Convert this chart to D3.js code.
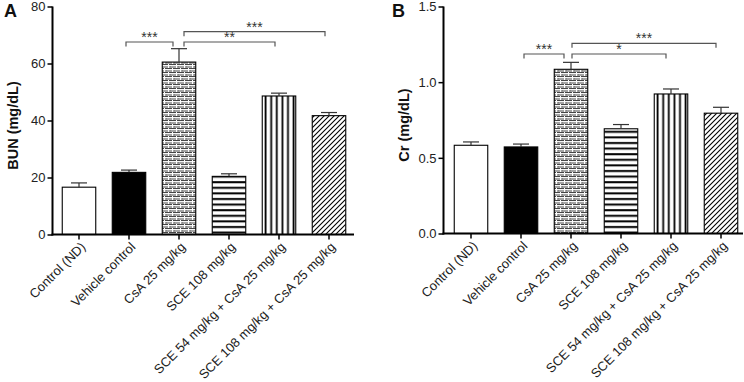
<!DOCTYPE html>
<html>
<head>
<meta charset="utf-8">
<script src="https://cdn.jsdelivr.net/npm/d3@7"></script>
<style>
  html, body { margin: 0; padding: 0; background: #fff; }
  svg { display: block; font-family: "Liberation Sans", Arial, Helvetica, sans-serif; }
</style>
</head>
<body>
<svg id="chart" width="744" height="382"></svg>
<script>
// ---- data ----
const categories = [
  "Control (ND)",
  "Vehicle control",
  "CsA 25 mg/kg",
  "SCE 108 mg/kg",
  "SCE 54 mg/kg + CsA 25 mg/kg",
  "SCE 108 mg/kg + CsA 25 mg/kg"
];
const fills = ["white", "black", "brick", "hstripe", "vstripe", "diag"];

const bunMean = [16.6, 21.8, 60.5, 20.4, 48.6, 41.7];
const bunErr  = [1.5, 0.8, 4.7, 0.9, 1.0, 1.1];
const bunTicks = [0, 20, 40, 60, 80];

const crMean = [0.583, 0.572, 1.085, 0.692, 0.922, 0.795];
const crErr  = [0.022, 0.019, 0.046, 0.028, 0.033, 0.039];
const crTicks = [0.0, 0.5, 1.0, 1.5];

// significance brackets: from / to category index, level (0 = lower, 1 = upper), label
const bunSig = [
  { from: 1, to: 2, level: 0, label: "***" },
  { from: 2, to: 5, level: 1, label: "***" },
  { from: 2, to: 4, level: 0, label: "**" }
];
const crSig = [
  { from: 1, to: 2, level: 0, label: "***" },
  { from: 2, to: 5, level: 1, label: "***" },
  { from: 2, to: 4, level: 0, label: "*" }
];

// ---- drawing ----
const svg = d3.select("#chart");
const defs = svg.append("defs");

// patterns
(function () {
  // brick
  const b = defs.append("pattern").attr("id", "brick").attr("patternUnits", "userSpaceOnUse")
    .attr("width", 8).attr("height", 8);
  b.append("rect").attr("width", 8).attr("height", 8).attr("fill", "#a4a4a4");
  b.append("rect").attr("x", 0).attr("y", 0).attr("width", 8).attr("height", 0.9).attr("fill", "#222");
  b.append("rect").attr("x", 0).attr("y", 0.9).attr("width", 8).attr("height", 1).attr("fill", "#fff");
  b.append("rect").attr("x", 0).attr("y", 4).attr("width", 8).attr("height", 0.9).attr("fill", "#222");
  b.append("rect").attr("x", 0).attr("y", 4.9).attr("width", 8).attr("height", 1).attr("fill", "#fff");
  b.append("rect").attr("x", 0).attr("y", 0).attr("width", 1).attr("height", 4).attr("fill", "#fff");
  b.append("rect").attr("x", 4).attr("y", 4).attr("width", 1).attr("height", 4).attr("fill", "#fff");
  b.append("rect").attr("x", 2).attr("y", 2.3).attr("width", 1).attr("height", 1).attr("fill", "#777");
  b.append("rect").attr("x", 6).attr("y", 6.3).attr("width", 1).attr("height", 1).attr("fill", "#777");

  // horizontal stripes
  const h = defs.append("pattern").attr("id", "hstripe").attr("patternUnits", "userSpaceOnUse")
    .attr("width", 10).attr("height", 5.6);
  h.append("rect").attr("width", 10).attr("height", 5.6).attr("fill", "#fff");
  h.append("rect").attr("y", 2).attr("width", 10).attr("height", 2).attr("fill", "#000");

  // vertical stripes
  const v = defs.append("pattern").attr("id", "vstripe").attr("patternUnits", "userSpaceOnUse")
    .attr("width", 5.6).attr("height", 10);
  v.append("rect").attr("width", 5.6).attr("height", 10).attr("fill", "#fff");
  v.append("rect").attr("x", 1.5).attr("width", 1.8).attr("height", 10).attr("fill", "#000");

  // diagonal hatch
  const d = defs.append("pattern").attr("id", "diag").attr("patternUnits", "userSpaceOnUse")
    .attr("width", 5).attr("height", 5);
  d.append("rect").attr("width", 5).attr("height", 5).attr("fill", "#fff");
  d.append("path").attr("d", "M-1,1 L1,-1 M0,5 L5,0 M4,6 L6,4")
    .attr("stroke", "#000").attr("stroke-width", 1.1);
})();

function fillFor(f) {
  if (f === "white") return "#fff";
  if (f === "black") return "#000";
  return "url(#" + f + ")";
}

function panel(opts) {
  const g = svg.append("g");
  const x = d3.scaleBand().domain(categories)
    .range([opts.x0, opts.x0 + 300]).paddingInner(0.33).paddingOuter(0.165);
  const y = d3.scaleLinear().domain(opts.domain).range([opts.yBottom, opts.yTop]);

  // bars
  g.selectAll("rect.bar").data(categories).enter().append("rect")
    .attr("class", "bar")
    .attr("x", c => x(c))
    .attr("width", x.bandwidth())
    .attr("y", (c, i) => y(opts.mean[i]))
    .attr("height", (c, i) => y(0) - y(opts.mean[i]))
    .attr("fill", (c, i) => fillFor(fills[i]))
    .attr("stroke", "#000").attr("stroke-width", 1.1);

  // error bars (upper only)
  const cap = 16;
  categories.forEach((c, i) => {
    const cx = x(c) + x.bandwidth() / 2;
    const top = y(opts.mean[i] + opts.err[i]);
    g.append("line").attr("x1", cx).attr("x2", cx)
      .attr("y1", y(opts.mean[i])).attr("y2", top)
      .attr("stroke", "#333").attr("stroke-width", 1.2);
    g.append("line").attr("x1", cx - cap / 2).attr("x2", cx + cap / 2)
      .attr("y1", top).attr("y2", top)
      .attr("stroke", "#333").attr("stroke-width", 1.2);
  });

  // y axis
  const yAxis = d3.axisLeft(y).tickValues(opts.ticks).tickFormat(opts.fmt).tickSize(5).tickSizeOuter(0);
  const ya = g.append("g").attr("transform", `translate(${opts.axisX},0)`).call(yAxis);
  ya.select(".domain").attr("stroke-width", 2).attr("d", `M0,${opts.yBottom + 1}V${opts.yTop}`);
  ya.selectAll(".tick line").attr("stroke-width", 1.5);
  ya.selectAll(".tick text").attr("font-size", "13px").attr("fill", "#222")
    .attr("font-family", "'Liberation Sans', Arial, sans-serif").attr("x", -7);

  // x axis
  const xAxis = d3.axisBottom(x).tickSize(5).tickSizeOuter(0);
  const xa = g.append("g").attr("transform", `translate(0,${opts.yBottom})`).call(xAxis);
  xa.select(".domain").attr("stroke-width", 2).attr("d", `M${opts.axisX - 1},0H${opts.axisEnd}`);
  xa.selectAll(".tick line").attr("stroke-width", 1.5);
  xa.selectAll(".tick text")
    .attr("font-size", "13px").attr("fill", "#222")
    .attr("font-family", "'Liberation Sans', Arial, sans-serif")
    .attr("text-anchor", "end")
    .attr("x", 0).attr("y", 0).attr("dy", "0.35em")
    .attr("transform", "translate(4,10) rotate(-45)");

  // y label
  g.append("text")
    .attr("transform", `translate(${opts.labelX},${(opts.yTop + opts.yBottom) / 2 + 5}) rotate(-90)`)
    .attr("text-anchor", "middle")
    .attr("font-size", "14.5px").attr("font-weight", "bold").attr("fill", "#111")
    .text(opts.ylabel);

  // panel letter
  g.append("text").attr("x", opts.letterX).attr("y", 17)
    .attr("font-size", "18px").attr("font-weight", "bold").attr("fill", "#111")
    .text(opts.letter);

  // significance brackets
  opts.sig.forEach(s => {
    const cFrom = x(categories[s.from]) + x.bandwidth() / 2;
    const cTo = x(categories[s.to]) + x.bandwidth() / 2;
    const x1 = cFrom + (s.from === 2 ? opts.offFrom2 : opts.offFrom1);
    const x2 = cTo - (s.to === 2 ? opts.offTo2 : opts.offToN);
    const ly = opts.levelY[s.level];
    g.append("path")
      .attr("d", `M${x1},${ly + 4.5}V${ly}H${x2}V${ly + 4.5}`)
      .attr("fill", "none").attr("stroke", "#555").attr("stroke-width", 1.2);
    g.append("text").attr("x", (x1 + x2) / 2).attr("y", ly)
      .attr("text-anchor", "middle").attr("font-size", "14px").attr("fill", "#333")
      .text(s.label);
  });
}

panel({
  x0: 54, axisX: 52.5, axisEnd: 354, yBottom: 234.5, yTop: 6.5,
  domain: [0, 80], ticks: bunTicks, fmt: d3.format("d"),
  mean: bunMean, err: bunErr, ylabel: "BUN (mg/dL)", labelX: 18,
  letter: "A", letterX: 4, sig: bunSig,
  levelY: [42, 31.7], offFrom1: -3, offFrom2: 5, offTo2: 6, offToN: 4
});

panel({
  x0: 446, axisX: 443.5, axisEnd: 743, yBottom: 233.5, yTop: 6.5,
  domain: [0, 1.5], ticks: crTicks, fmt: d3.format(".1f"),
  mean: crMean, err: crErr, ylabel: "Cr (mg/dL)", labelX: 409,
  letter: "B", letterX: 392, sig: crSig,
  levelY: [54, 43.3], offFrom1: 3, offFrom2: 1, offTo2: 7, offToN: 5
});
</script>
</body>
</html>
